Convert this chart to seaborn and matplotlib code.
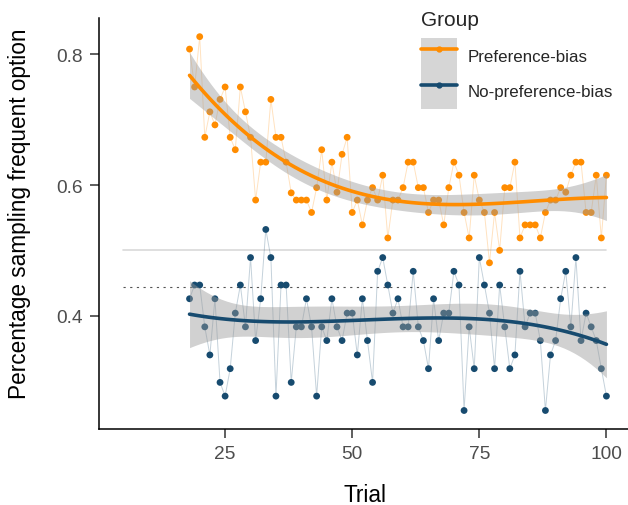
import numpy as np
import pandas as pd
import seaborn as sns
import matplotlib.pyplot as plt
from matplotlib.lines import Line2D
from matplotlib.patches import Patch
from matplotlib.legend_handler import HandlerTuple

# Data (one value per trial)
trials = list(range(18, 101))

pref_bias = [
    0.808, 0.750, 0.827, 0.673, 0.712, 0.692, 0.731, 0.750, 0.673, 0.654,
    0.750, 0.712, 0.673, 0.577, 0.635, 0.635, 0.731, 0.673, 0.673, 0.635,
    0.588, 0.577, 0.577, 0.577, 0.558, 0.596, 0.654, 0.577, 0.635, 0.589,
    0.647, 0.673, 0.558, 0.577, 0.539, 0.577, 0.596, 0.577, 0.615, 0.519,
    0.577, 0.577, 0.596, 0.635, 0.635, 0.596, 0.596, 0.558, 0.577, 0.577,
    0.539, 0.596, 0.635, 0.615, 0.558, 0.519, 0.615, 0.577, 0.558, 0.481,
    0.558, 0.500, 0.596, 0.596, 0.635, 0.519, 0.539, 0.539, 0.539, 0.519,
    0.558, 0.577, 0.577, 0.596, 0.589, 0.615, 0.635, 0.635, 0.558, 0.558,
    0.615, 0.519, 0.615,
]

no_pref_bias = [
    0.426, 0.447, 0.447, 0.383, 0.340, 0.426, 0.298, 0.277, 0.319, 0.404,
    0.447, 0.383, 0.489, 0.362, 0.426, 0.532, 0.489, 0.277, 0.447, 0.447,
    0.298, 0.383, 0.383, 0.426, 0.383, 0.277, 0.383, 0.362, 0.426, 0.383,
    0.362, 0.404, 0.404, 0.340, 0.426, 0.362, 0.298, 0.468, 0.489, 0.447,
    0.404, 0.426, 0.383, 0.383, 0.468, 0.383, 0.362, 0.319, 0.426, 0.362,
    0.404, 0.404, 0.468, 0.447, 0.255, 0.383, 0.319, 0.489, 0.447, 0.404,
    0.319, 0.447, 0.383, 0.319, 0.340, 0.468, 0.383, 0.404, 0.404, 0.362,
    0.255, 0.340, 0.362, 0.426, 0.468, 0.383, 0.489, 0.362, 0.404, 0.383,
    0.362, 0.319, 0.277,
]

groups = ["Preference-bias", "No-preference-bias"]
colors = {"Preference-bias": "#FF8C00", "No-preference-bias": "#174B6F"}

# reference lines (solid = 0.5, dotted = chance level)
ref_solid = 0.5
ref_dotted = 0.444
ref_start, ref_end = 5, 100


def smooth_fit(x, y, grid, order=3):
    """Polynomial least squares smooth with a 95% confidence band."""
    x = np.asarray(x, float)
    y = np.asarray(y, float)
    xc = (x - x.mean()) / x.std()
    gc = (grid - x.mean()) / x.std()
    X = np.vander(xc, order + 1)
    G = np.vander(gc, order + 1)
    beta, *_ = np.linalg.lstsq(X, y, rcond=None)
    resid = y - X @ beta
    dof = len(x) - (order + 1)
    sigma2 = resid @ resid / dof
    cov = sigma2 * np.linalg.inv(X.T @ X)
    fit = G @ beta
    se = np.sqrt(np.einsum("ij,jk,ik->i", G, cov, G))
    return fit, 1.99 * se


df = pd.DataFrame({
    "Trial": trials * 2,
    "Value": pref_bias + no_pref_bias,
    "Group": [groups[0]] * len(trials) + [groups[1]] * len(trials),
})

sns.set_theme(style="ticks")
plt.rcParams["font.family"] = ["Liberation Sans", "DejaVu Sans"]

fig = plt.figure(figsize=(6.28, 5.06), dpi=100)
ax = fig.add_axes([0.1581, 0.1502, 0.846, 0.8123])

# horizontal reference lines
ax.plot([ref_start, ref_end], [ref_solid, ref_solid], color="#D9D9D9", lw=1.2, zorder=1)
ax.plot([ref_start, ref_end], [ref_dotted, ref_dotted], color="#555555", lw=0.8,
        linestyle=(0, (2, 4)), zorder=1)

grid = np.linspace(min(trials), max(trials), 80)
ribbon_color = "#999999"

for g in groups:
    sub = df[df["Group"] == g]
    c = colors[g]
    # thin connecting line + points
    sns.lineplot(data=sub, x="Trial", y="Value", color=c, lw=0.7, alpha=0.25, ax=ax, zorder=2)
    sns.scatterplot(data=sub, x="Trial", y="Value", color=c, s=24, edgecolor="none", ax=ax, zorder=3)

    # smooth trend with 95% band on top of the points
    fit, half = smooth_fit(sub["Trial"], sub["Value"], grid)
    ax.fill_between(grid, fit - half, fit + half, color=ribbon_color,
                    alpha=0.45, lw=0, zorder=4)
    sns.lineplot(x=grid, y=fit, color=c, lw=2.6, ax=ax, zorder=5)

ax.set_xlim(0.25, 104.75)
ax.set_ylim(0.2267, 0.8556)
ax.set_xticks([25, 50, 75, 100])
ax.set_yticks([0.4, 0.6, 0.8])
ax.set_xticklabels(["25", "50", "75", "100"])
ax.set_yticklabels(["0.4", "0.6", "0.8"])

sns.despine(ax=ax)
for side in ["left", "bottom"]:
    ax.spines[side].set_linewidth(1.1)
    ax.spines[side].set_color("black")
ax.tick_params(axis="both", length=6.8, width=1.1, color="#333333",
               labelsize=13.8, labelcolor="#4D4D4D", pad=5)

ax.set_xlabel("Trial", fontsize=16.3, color="black", labelpad=15)
ax.set_ylabel("Percentage sampling frequent option", fontsize=16.3, color="black")
ax.yaxis.set_label_coords(-0.128, 0.525)

# legend: title as text, keys with a grey background like the original
fig.text(421 / 628, 1 - 21 / 506, "Group", fontsize=15, va="center", ha="left")

handles = []
for g in groups:
    key_bg = Patch(facecolor="#D6D6D6", edgecolor="none")
    key_line = Line2D([], [], color=colors[g], lw=2.6, marker="o", markersize=3.5)
    handles.append((key_bg, key_line))

leg = fig.legend(handles, groups, loc="upper left",
                 bbox_to_anchor=(421 / 628, 1 - 39 / 506), frameon=False,
                 handler_map={tuple: HandlerTuple(ndivide=1, pad=0)},
                 fontsize=12.2, handlelength=2.1, handleheight=2.84,
                 labelspacing=0, handletextpad=0.65, borderpad=0, borderaxespad=0)

fig.savefig("out.png", dpi=100)
